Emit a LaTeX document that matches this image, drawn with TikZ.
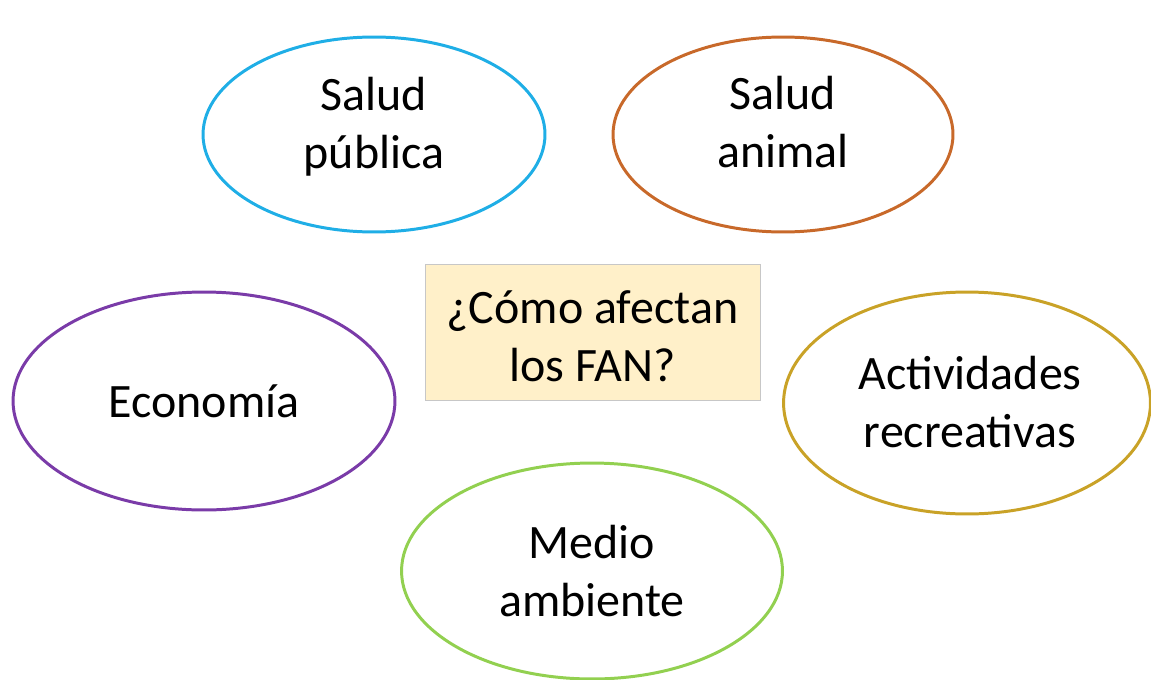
\documentclass[tikz,border=0pt]{standalone}
\usepackage{fontspec}
\setmainfont{Carlito}
\usepackage{tikz}
\usetikzlibrary{shapes.geometric}
\definecolor{azul}{HTML}{1FAEE6}
\definecolor{naranja}{HTML}{C8692A}
\definecolor{morado}{HTML}{7A3BA8}
\definecolor{dorado}{HTML}{C9A227}
\definecolor{verde}{HTML}{92D050}
\definecolor{crema}{HTML}{FFF0C9}
\tikzstyle{burbuja} = [ellipse, line width=1.7pt, inner sep=0pt]
\tikzstyle{texto} = [inner sep=0pt, align=center, font=\fontsize{27.3}{33}\selectfont]
\tikzstyle{caja} = [rectangle, draw=black!22, line width=0.5pt, fill=crema, inner sep=0pt]

\begin{document}
\begin{tikzpicture}[x=0.02cm,y=-0.02cm]
			\useasboundingbox (0,0) rectangle (1151,679);
			\node [caja, minimum width=6.7cm, minimum height=2.72cm] (fan) at (592.5,332) {};
			\node [texto] (fan_t) at (592.5,336) {¿Cómo afectan\\los FAN?};
			\node [burbuja, draw=azul, minimum width=6.84cm, minimum height=3.9cm] (publica) at (374,134.5) {};
			\node [texto] (publica_t) at (374,126.5) {Salud\\pública};
			\node [burbuja, draw=naranja, minimum width=6.8cm, minimum height=3.9cm] (animal) at (783,134.5) {};
			\node [texto] (animal_t) at (783,122.5) {Salud\\animal};
			\node [burbuja, draw=morado, minimum width=7.64cm, minimum height=4.36cm] (economia) at (204,401) {};
			\node [texto] (economia_t) at (204,401) {Economía};
			\node [burbuja, draw=dorado, minimum width=7.34cm, minimum height=4.44cm] (recreativas) at (967,403) {};
			\node [texto] (recreativas_t) at (970,402) {Actividades\\recreativas};
			\node [burbuja, draw=verde, minimum width=7.62cm, minimum height=4.32cm] (ambiente) at (592,571) {};
			\node [texto] (ambiente_t) at (592,571) {Medio\\ambiente};
		\end{tikzpicture}
\end{document}
